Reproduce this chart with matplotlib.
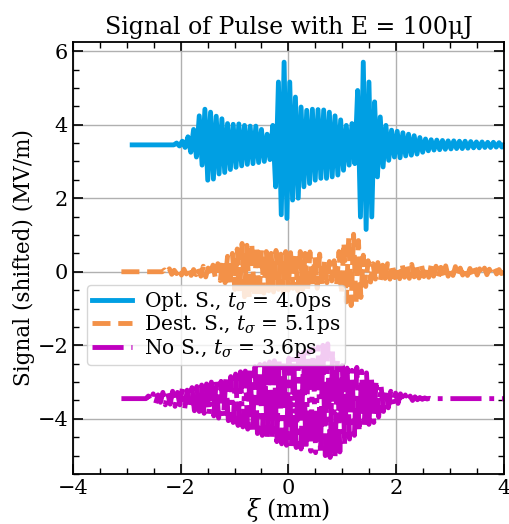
import numpy as np
from matplotlib import pyplot as plt

plt.rcParams['font.family'] = 'DejaVu Serif'
plt.rcParams['mathtext.fontset'] = 'dejavuserif'

x_end = 4.0

# Opt. S. -- flat lead-in, then peaks (one top + one bottom per cycle)
opt_base = 3.45
opt_lead = -2.9
opt_first = -2.075
opt_period = 0.105
opt_tops = [3.50, 3.55, 3.67, 3.87, 4.24, 4.42, 4.34, 4.23, 4.16, 4.03,
            4.01, 4.02, 3.98, 3.96, 3.96, 3.87, 3.74, 3.98, 5.16, 5.70,
            5.16, 4.75, 4.48, 4.39, 4.42, 4.41, 4.40, 4.34, 4.24, 4.13,
            3.98, 4.03, 4.93, 5.70, 5.16, 4.62, 4.21, 3.98, 3.85, 3.82,
            3.78, 3.74, 3.70, 3.65, 3.61, 3.59, 3.58, 3.57, 3.56, 3.56,
            3.55, 3.55, 3.54, 3.53, 3.53, 3.52, 3.52, 3.51]
opt_bots = [3.42, 3.38, 3.25, 3.12, 2.90, 2.49, 2.52, 2.66, 2.70, 2.78,
            2.84, 2.88, 2.92, 2.94, 2.97, 3.00, 3.05, 2.31, 1.55, 1.45,
            1.95, 2.00, 2.31, 2.40, 2.49, 2.54, 2.54, 2.58, 2.63, 2.76,
            2.90, 2.94, 1.49, 1.15, 1.49, 2.58, 2.85, 3.03, 3.12, 3.10,
            3.15, 3.17, 3.20, 3.25, 3.29, 3.31, 3.32, 3.33, 3.34, 3.35,
            3.35, 3.36, 3.37, 3.37, 3.38, 3.38, 3.39, 3.39]

# Dest. S.
dest_base = 0.0
dest_lead = -3.1
dest_first = -2.3
dest_period = 0.09
dest_tops = [0.05, 0.08, 0.04, 0.10, 0.07, 0.12, 0.06, 0.11, 0.15, 0.10,
             0.18, 0.22, 0.30, 0.42, 0.50, 0.62, 0.77, 0.72, 0.78, 0.70,
             0.60, 0.55, 0.50, 0.58, 0.48, 0.55, 0.52, 0.45, 0.55, 0.50,
             0.54, 0.40, 0.48, 0.32, 0.28, 0.30, 0.55, 0.80, 0.95, 1.02,
             0.85, 0.45, 0.30, 0.22, 0.25, 0.18, 0.22, 0.20, 0.15, 0.22,
             0.18, 0.20, 0.16, 0.19, 0.14, 0.18, 0.15, 0.12, 0.16, 0.12,
             0.14, 0.10, 0.12, 0.09, 0.11, 0.08, 0.10, 0.07, 0.08, 0.06]
dest_bots = [-0.04, -0.07, -0.05, -0.09, -0.06, -0.10, -0.08, -0.12, -0.14, -0.12,
             -0.18, -0.24, -0.30, -0.38, -0.48, -0.55, -0.68, -0.72, -0.65, -0.70,
             -0.58, -0.52, -0.55, -0.48, -0.56, -0.50, -0.45, -0.52, -0.48, -0.50,
             -0.42, -0.45, -0.38, -0.30, -0.25, -0.35, -0.60, -0.82, -0.92, -0.88,
             -0.70, -0.40, -0.28, -0.20, -0.24, -0.18, -0.20, -0.16, -0.19, -0.15,
             -0.18, -0.14, -0.17, -0.13, -0.15, -0.12, -0.14, -0.11, -0.12, -0.10,
             -0.11, -0.09, -0.10, -0.08, -0.09, -0.07, -0.08, -0.06, -0.06, -0.05]

# No S.
no_base = -3.45
no_lead = -3.1
no_first = -2.6
no_period = 0.09
no_tops = [-3.38, -3.32, -3.35, -3.28, -3.30, -3.25, -3.28, -3.18, -3.22, -3.15,
           -3.12, -3.08, -3.05, -3.00, -2.95, -2.98, -2.90, -2.85, -2.78, -2.72,
           -2.70, -2.62, -2.58, -2.52, -2.50, -2.45, -2.42, -2.38, -2.40, -2.35,
           -2.30, -2.25, -2.20, -2.15, -2.10, -2.05, -2.00, -1.96, -2.15, -2.40,
           -2.55, -2.62, -2.68, -2.60, -2.70, -2.75, -2.85, -2.95, -3.10, -3.20,
           -3.25, -3.30, -3.32, -3.35, -3.38, -3.40, -3.42, -3.43, -3.44, -3.44]
no_bots = [-3.52, -3.58, -3.55, -3.62, -3.60, -3.66, -3.62, -3.72, -3.70, -3.78,
           -3.80, -3.85, -3.88, -3.92, -3.98, -3.95, -4.05, -4.10, -4.18, -4.22,
           -4.28, -4.35, -4.40, -4.45, -4.50, -4.55, -4.62, -4.68, -4.72, -4.76,
           -4.78, -4.82, -4.85, -4.88, -4.92, -4.96, -5.00, -5.05, -5.08, -4.90,
           -4.70, -4.55, -4.45, -4.35, -4.25, -4.15, -4.10, -3.95, -3.80, -3.70,
           -3.62, -3.58, -3.55, -3.52, -3.50, -3.48, -3.47, -3.46, -3.46, -3.45]


def zigzag(lead, first, period, tops, bots, base, stop):
    xs = [lead, first - period / 2]
    ys = [base, base]
    for k, (t, b) in enumerate(zip(tops, bots)):
        xc = first + k * period
        xs += [xc, xc + period / 2]
        ys += [t, b]
    xs.append(stop)
    ys.append(base)
    return np.array(xs), np.array(ys)


fig, ax = plt.subplots(figsize=(5.1, 5.24), dpi=100)
fig.subplots_adjust(left=0.143, right=0.988, bottom=0.0954, top=0.92)

x, y = zigzag(opt_lead, opt_first, opt_period, opt_tops, opt_bots, opt_base, x_end)
ax.plot(x, y, color='#009FE3', lw=3.5, label=r'Opt. S., $t_\sigma$ = 4.0ps')
x, y = zigzag(dest_lead, dest_first, dest_period, dest_tops, dest_bots, dest_base, x_end)
ax.plot(x, y, color='#F39148', lw=3.5, ls='--', label=r'Dest. S., $t_\sigma$ = 5.1ps')
x, y = zigzag(no_lead, no_first, no_period, no_tops, no_bots, no_base, x_end)
ax.plot(x, y, color='m', lw=3.5, ls='-.', label=r'No S., $t_\sigma$ = 3.6ps')

ax.set_xlim(-4, 4)
ax.set_ylim(-5.5, 6.25)
ax.set_xticks([-4, -2, 0, 2, 4])
ax.set_yticks([-4, -2, 0, 2, 4, 6])
ax.set_xticks(np.arange(-4, 4.01, 0.5), minor=True)
ax.set_yticks(np.arange(-5.5, 6.26, 0.5), minor=True)
ax.tick_params(which='both', direction='in', top=True, right=True, labelsize=15)
ax.tick_params(which='major', length=7, width=1.2)
ax.tick_params(which='minor', length=4, width=1)
ax.grid(True, which='major', color='#b0b0b0', lw=1)
for s in ax.spines.values():
    s.set_linewidth(1.3)

ax.set_title('Signal of Pulse with E = 100μJ', fontsize=17)
ax.set_xlabel(r'$\xi$ (mm)', fontsize=17, labelpad=-1)
ax.set_ylabel('Signal (shifted) (MV/m)', fontsize=15.5, labelpad=2)
ax.legend(loc='upper left', bbox_to_anchor=(0.032, 0.4375), borderaxespad=0,
          fontsize=14.5, handlelength=2.0, borderpad=0.25, labelspacing=0.02,
          handletextpad=0.6)

plt.savefig('out.png', dpi=100)
